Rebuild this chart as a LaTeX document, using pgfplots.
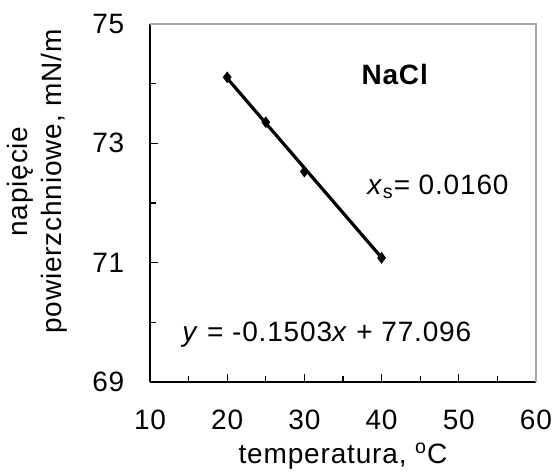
\documentclass[border=0pt]{standalone}
\usepackage{fontspec}
\setmainfont[LetterSpace=3]{Liberation Sans}
\usepackage{pgfplots}
\pgfplotsset{compat=1.18}

\begin{document}
\fontsize{14}{16.8}\selectfont
\begin{tikzpicture}
\useasboundingbox (-75pt,-46pt) rectangle (201pt,191pt);
\begin{axis}[
    scale only axis, width=193pt, height=179pt,
    xmin=10, xmax=60, ymin=69, ymax=75,
    xtick={10,20,...,60}, ytick={69,71,73,75},
    minor xtick={15,25,...,55}, minor ytick={70,72,74},
    axis x line*=bottom, axis y line*=left,
    axis line style={line width=0.8pt, -},
    tick align=inside, tick style={black, line width=0.6pt},
    major tick length=4pt, minor tick length=3pt,
    tick label style={font=\fontsize{14}{16.8}\selectfont},
    label style={font=\fontsize{14}{16.8}\selectfont},
    /pgf/number format/assume math mode=true,
    xticklabel style={yshift=-9pt},
    yticklabel style={xshift=-8pt},
    xlabel={temperatura, \textsuperscript{o}C},
    ylabel={napięcie\\powierzchniowe, mN/m},
    ylabel style={align=center, at={(ticklabel cs:0.56)}},
    ylabel shift=3pt, xlabel shift=-3pt,
    clip=false,
]
\draw[gray!70, line width=0.6pt] (rel axis cs:0,1) -- (rel axis cs:1,1) -- (rel axis cs:1,0);
\addplot[black, line width=1.6pt, no marks] coordinates {(20,74.090) (40,71.084)};
\addplot[only marks, mark=diamond*, mark size=2.6pt, black] coordinates {
    (20,74.107) (25,73.353) (30,72.526) (40,71.080)};
\node[font=\fontsize{14}{16.8}\selectfont\bfseries] at (axis cs:41.7,74.15) {NaCl};
\node[font=\fontsize{14}{16.8}\selectfont] at (axis cs:47.3,72.27) {\textit{x}\textsubscript{s}= 0.0160};
\node[font=\fontsize{14}{16.8}\selectfont] at (axis cs:32.9,69.79) {\textit{y} = -0.1503\textit{x} + 77.096};
\end{axis}
\end{tikzpicture}
\end{document}
